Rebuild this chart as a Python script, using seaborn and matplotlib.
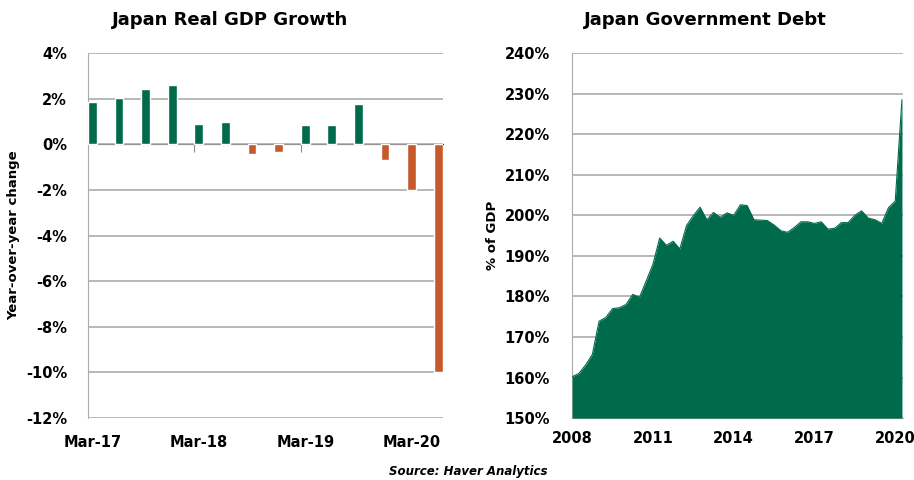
import numpy as np
import pandas as pd
import matplotlib
matplotlib.use('Agg')
import matplotlib.pyplot as plt
import seaborn as sns

# --- data ---
quarters = ['Mar-17', 'Jun-17', 'Sep-17', 'Dec-17',
            'Mar-18', 'Jun-18', 'Sep-18', 'Dec-18',
            'Mar-19', 'Jun-19', 'Sep-19', 'Dec-19',
            'Mar-20', 'Jun-20']
gdp_growth = [1.84, 2.03, 2.41, 2.61, 0.90, 0.99, -0.44, -0.33,
              0.83, 0.86, 1.75, -0.67, -2.00, -10.00]

debt_years = [2008 + q / 4 for q in range(50)]  # quarterly, 2008Q1 .. 2020Q2
debt_pct = [160.2, 161.0, 163.1, 165.7, 173.9, 174.8, 177.0, 177.2, 178.0, 180.5,
            179.8, 183.8, 187.9, 194.4, 192.6, 193.6, 191.7, 197.5, 199.9, 202.0,
            198.9, 200.7, 199.5, 200.6, 200.0, 202.6, 202.4, 198.9, 198.8, 198.7,
            197.6, 196.2, 195.8, 197.0, 198.4, 198.4, 198.0, 198.4, 196.6, 196.8,
            198.2, 198.2, 200.0, 201.1, 199.3, 198.9, 198.0, 201.9, 203.5, 228.5]
year_ticks = [2008, 2011, 2014, 2017, 2020]

GREEN = '#006B4A'
ORANGE = '#C65A2B'
GRID = '#ABABAB'

sns.set_style('white')
plt.rcParams['font.family'] = ['DejaVu Sans']
plt.rcParams['font.weight'] = 'bold'
plt.rcParams['text.color'] = 'black'
plt.rcParams['axes.labelcolor'] = 'black'
plt.rcParams['xtick.labelcolor'] = 'black'
plt.rcParams['ytick.labelcolor'] = 'black'

fig = plt.figure(figsize=(9.14, 4.8), dpi=100)
ax1 = fig.add_axes([0.0963, 0.129, 0.388, 0.7604])
ax2 = fig.add_axes([0.626, 0.129, 0.362, 0.7604])

# --- left: GDP growth bars ---
gdp = pd.DataFrame({'quarter': quarters, 'growth': gdp_growth})
gdp['sign'] = np.where(gdp['growth'] >= 0, 'pos', 'neg')
bar_w = 0.33
sns.barplot(data=gdp, x='quarter', y='growth', hue='sign',
            palette={'pos': GREEN, 'neg': ORANGE}, dodge=False, saturation=1,
            width=bar_w, legend=False, ax=ax1, zorder=3)
ax1.set_xlim(-bar_w / 2, len(quarters) - 1 + bar_w / 2)
ax1.set_ylim(-12, 4)
ax1.set_yticks(range(-12, 5, 2))
ax1.set_yticklabels([f'{v}%' for v in range(-12, 5, 2)])
ax1.yaxis.grid(True, color=GRID, linewidth=1.2)
ax1.set_axisbelow(True)
ax1.set_xticks(range(0, len(quarters), 4))
ax1.set_xticklabels(quarters[::4])
ax1.tick_params(axis='x', length=0, pad=12, labelsize=10.5)
ax1.tick_params(axis='y', length=6, color=GRID, direction='out', labelsize=10.5, pad=9)
for s in ['top', 'right', 'bottom']:
    ax1.spines[s].set_visible(False)
ax1.spines['left'].set_color(GRID)
ax1.set_xlabel('')
ax1.set_ylabel('Year-over-year change', fontsize=9.5, fontweight='bold', labelpad=4)

# zero axis line with small ticks between years
zero_frac = (0 - (-12)) / 16
zax = ax1.secondary_xaxis(zero_frac)
zax.set_xticks([i - bar_w / 2 for i in range(4, len(quarters), 4)])
zax.set_xticklabels([])
zax.tick_params(length=6, color='#8C8C8C', direction='in')
zax.spines['bottom'].set_color('#8C8C8C')
zax.spines['bottom'].set_linewidth(1.2)

# --- right: government debt area ---
debt = pd.DataFrame({'year': debt_years, 'debt': debt_pct})
sns.lineplot(data=debt, x='year', y='debt', color=GREEN, linewidth=0.8, ax=ax2, zorder=3)
ax2.fill_between(debt['year'], 150, debt['debt'], color=GREEN, linewidth=0, zorder=3)
ax2.set_xlim(2008, 2020.29)
ax2.set_ylim(150, 240)
ax2.set_yticks(range(150, 241, 10))
ax2.set_yticklabels([f'{v}%' for v in range(150, 241, 10)])
ax2.set_xticks(year_ticks)
ax2.set_xticklabels([str(y) for y in year_ticks])
ax2.yaxis.grid(True, color=GRID, linewidth=1.2)
ax2.set_axisbelow(True)
ax2.tick_params(axis='y', length=6, color=GRID, direction='out', labelsize=10.5, pad=10)
ax2.tick_params(axis='x', length=5, color=GRID, direction='out', labelsize=10.5, pad=4)
for s in ['top', 'right']:
    ax2.spines[s].set_visible(False)
ax2.spines['left'].set_color(GRID)
ax2.spines['bottom'].set_color(GRID)
ax2.set_xlabel('')
ax2.set_ylabel('% of GDP', fontsize=9.5, fontweight='bold', labelpad=4)

# --- titles and source ---
fig.text(230 / 914, 1 - 20 / 480, 'Japan Real GDP Growth', ha='center', va='center',
         fontsize=13, fontweight='bold')
fig.text(705 / 914, 1 - 20 / 480, 'Japan Government Debt', ha='center', va='center',
         fontsize=13, fontweight='bold')
fig.text(468 / 914, 1 - 472 / 480, 'Source: Haver Analytics', ha='center', va='center',
         fontsize=8.5, fontweight='bold', fontstyle='italic')

fig.savefig('out.png', dpi=100)
